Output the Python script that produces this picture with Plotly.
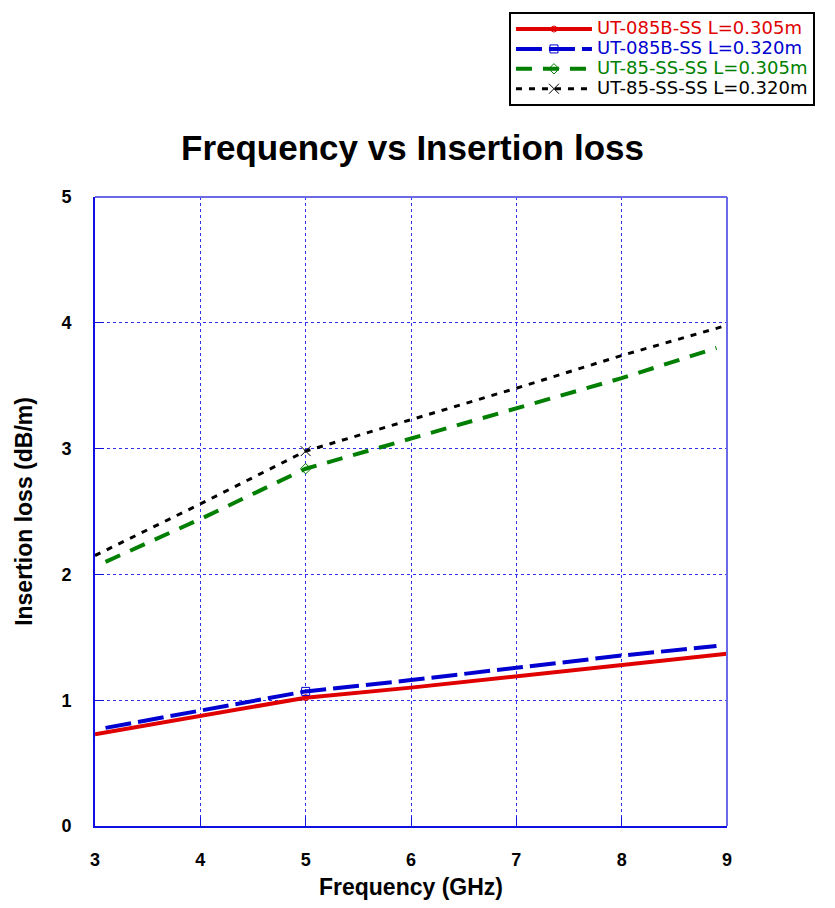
import plotly.graph_objects as go

freq_full = [3, 4, 5, 6, 7, 8, 9]
freq_short = [3.1, 4, 5, 6, 7, 8, 8.9]
red_vals = [0.73, 0.875, 1.02, 1.10, 1.19, 1.285, 1.37]
blue_vals = [0.78, 0.92, 1.07, 1.16, 1.26, 1.355, 1.43]
green_vals = [2.10, 2.44, 2.84, 3.08, 3.32, 3.56, 3.80]
black_vals = [2.15, 2.56, 2.98, 3.23, 3.48, 3.74, 3.98]
names = ["UT-085B-SS L=0.305m", "UT-085B-SS L=0.320m",
         "UT-85-SS-SS L=0.305m", "UT-85-SS-SS L=0.320m"]
x_ticks = [3, 4, 5, 6, 7, 8, 9]
y_ticks = [0, 1, 2, 3, 4, 5]

series = [
    (freq_full, red_vals, "#e00000", "solid", 4, "circle-open", 6),
    (freq_short, blue_vals, "#0000d0", "26px,7px", 4, "square-open", 8),
    (freq_short, green_vals, "#007f00", "16px,11px", 4, "diamond-open", 8),
    (freq_full, black_vals, "#000000", "6px,7px", 3, "x-thin-open", 10),
]

fig = go.Figure()
for i, (xs, ys, col, dash, w, sym, ms) in enumerate(series):
    fig.add_trace(go.Scatter(x=xs, y=ys, mode="lines", showlegend=False,
                             line=dict(color=col, dash=dash, width=w)))
for i, (xs, ys, col, dash, w, sym, ms) in enumerate(series):
    k = xs.index(5)
    fig.add_trace(go.Scatter(
        x=[xs[k]], y=[ys[k]], mode="lines+markers",
        name=f"<span style='color:{col};font-size:18px'>{names[i]}</span>",
        line=dict(color=col, dash=dash, width=w),
        marker=dict(symbol=sym, size=ms, color=col,
                    line=dict(color=col, width=1))))

axis_col = "#1010e0"
tickfont = dict(size=18, family="Liberation Sans Narrow, Arial Narrow, Arial", weight="bold")
fig.update_layout(
    width=835, height=908,
    margin=dict(l=95, r=108, t=190, b=82),
    paper_bgcolor="white", plot_bgcolor="white",
    font=dict(family="Liberation Sans, Arial, sans-serif", color="black"),
    title=dict(text="<b>Frequency vs Insertion loss</b>", x=0.494, xanchor="center",
               y=1 - 148 / 908, yanchor="middle", font=dict(size=35)),
    legend=dict(x=0.655, y=1.294, xanchor="left", yanchor="top",
                bgcolor="white", bordercolor="black", borderwidth=2,
                font=dict(size=13, family="DejaVu Sans, Verdana, sans-serif"),
                tracegroupgap=0, itemwidth=76),
    xaxis=dict(range=[3, 9], tickvals=x_ticks, showgrid=True,
               gridcolor="#3030f0", griddash="dot", gridwidth=1,
               showline=True, linecolor=axis_col, linewidth=2,
               ticks="inside", ticklen=9, tickcolor=axis_col,
               tickfont=tickfont, ticklabelstandoff=16, zeroline=False,
               title=dict(text="<b>Frequency (GHz)</b>", font=dict(size=23), standoff=10)),
    yaxis=dict(range=[0, 5], tickvals=y_ticks, showgrid=True,
               gridcolor="#3030f0", griddash="dot", gridwidth=1,
               showline=True, linecolor=axis_col, linewidth=2,
               ticks="inside", ticklen=9, tickcolor=axis_col,
               tickfont=tickfont, ticklabelstandoff=18, zeroline=False,
               title=dict(text="<b>Insertion loss (dB/m)</b>", font=dict(size=23), standoff=22)),
    shapes=[
        dict(type="line", xref="paper", yref="paper", x0=1, x1=1, y0=0, y1=1,
             line=dict(color="#6a6ae8", width=2)),
        dict(type="line", xref="paper", yref="paper", x0=0, x1=1, y0=1, y1=1,
             line=dict(color="#6a6ae8", width=2)),
    ],
)

fig.write_html("out.html")
